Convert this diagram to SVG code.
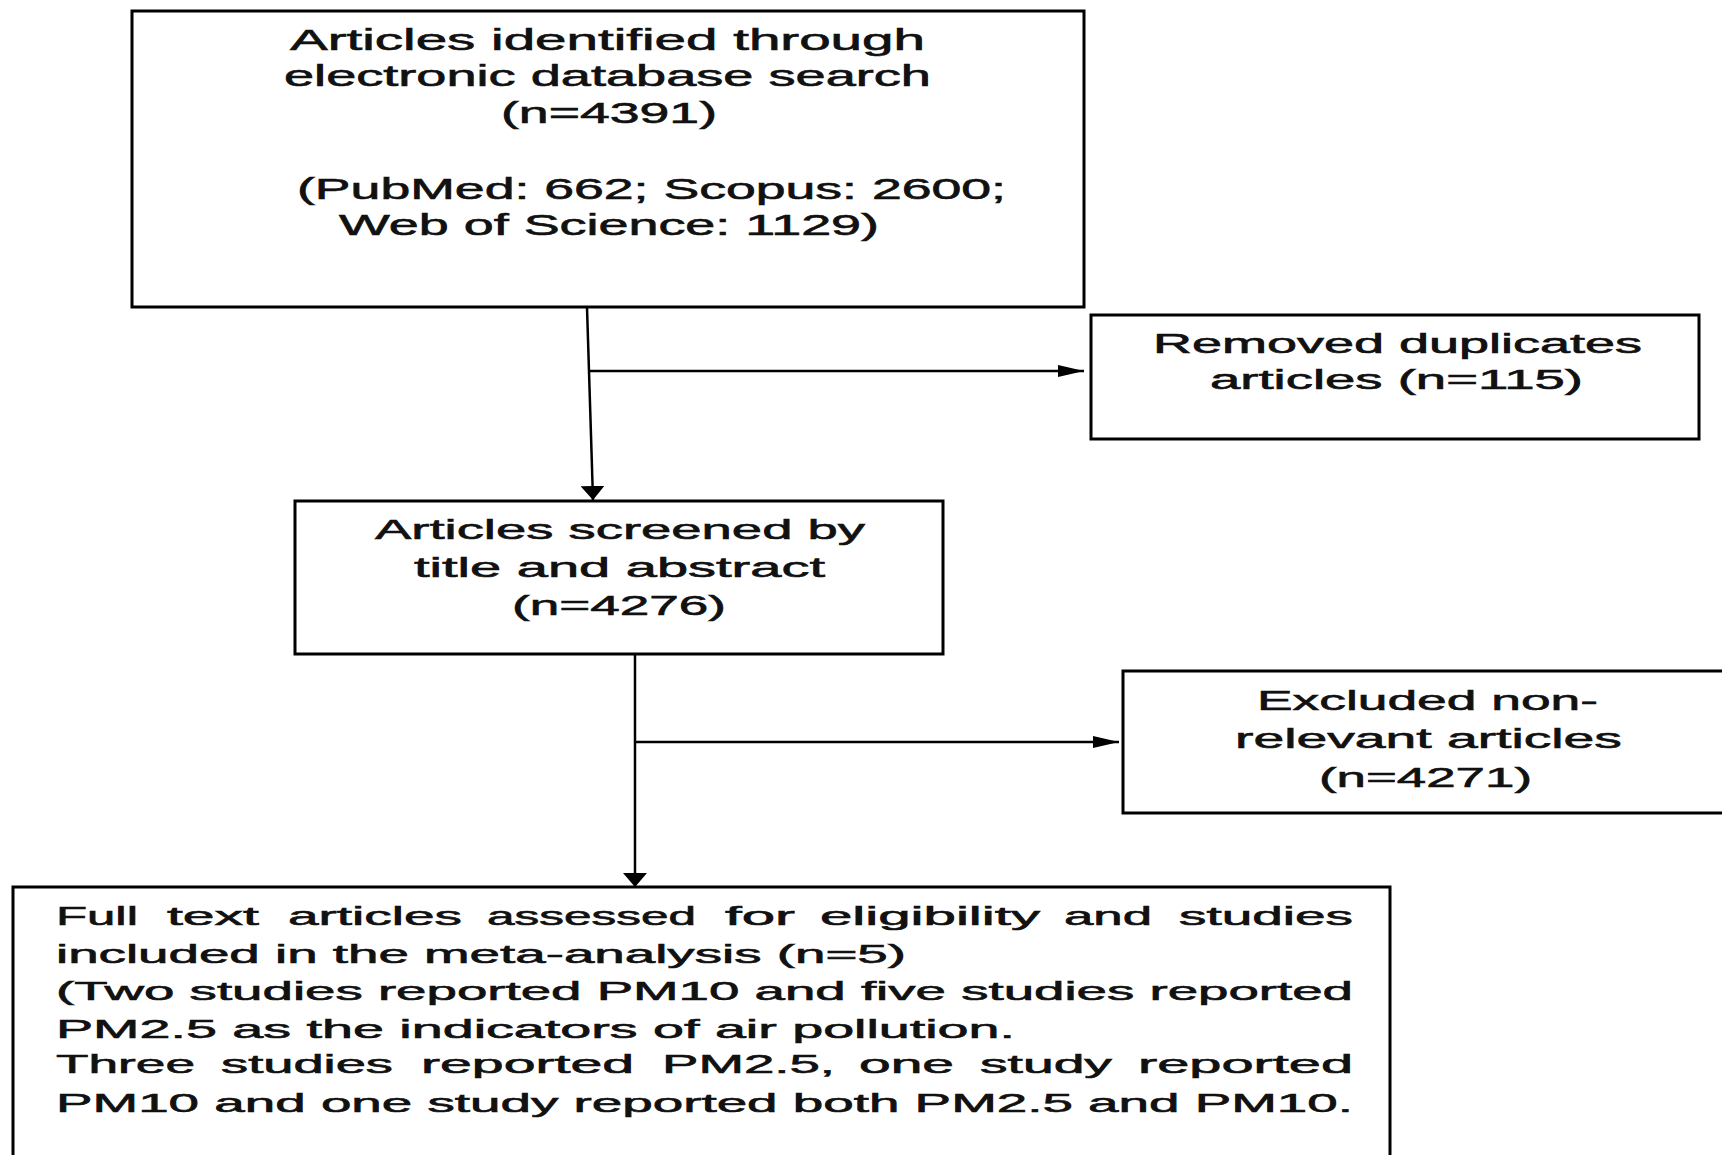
<svg xmlns="http://www.w3.org/2000/svg" width="1722" height="1155" viewBox="0 0 1722 1155">
<style>
.box{fill:#fff;stroke:#000;stroke-width:3}
.t{font-family:"Liberation Sans",Arial,sans-serif;fill:#111;stroke:#111;stroke-width:0.6}
.f29{font-size:29px}.f27{font-size:27px}.f28{font-size:28px}.f26{font-size:26px}
.conn{stroke:#000;stroke-width:2.5;fill:none}
</style>
<defs>
<marker id="ah" markerUnits="userSpaceOnUse" markerWidth="26" markerHeight="12" refX="26" refY="6" orient="auto"><path d="M0,0 L26,6 L0,12 z" fill="#000"/></marker>
<marker id="av" markerUnits="userSpaceOnUse" markerWidth="14" markerHeight="24" refX="14" refY="12" orient="auto"><path d="M0,0 L14,12 L0,24 z" fill="#000"/></marker>
</defs>
<rect width="1722" height="1155" fill="#fff"/>
<g id="connectors">
<line class="conn" x1="587" y1="307" x2="593" y2="500" marker-end="url(#av)"/>
<line class="conn" x1="590" y1="371" x2="1084" y2="371" marker-end="url(#ah)"/>
<line class="conn" x1="635" y1="654" x2="635" y2="887" marker-end="url(#av)"/>
<line class="conn" x1="635" y1="742" x2="1119" y2="742" marker-end="url(#ah)"/>
</g>
<g id="identified">
<rect class="box" x="132" y="11" width="952" height="296"/>
<text class="t f29" lengthAdjust="spacingAndGlyphs" x="290" y="50" textLength="635">Articles identified through</text>
<text class="t f29" lengthAdjust="spacingAndGlyphs" x="284" y="86" textLength="647">electronic database search</text>
<text class="t f29" lengthAdjust="spacingAndGlyphs" x="501" y="123" textLength="216">(n=4391)</text>
<text class="t f29" lengthAdjust="spacingAndGlyphs" x="297" y="199" textLength="709">(PubMed: 662; Scopus: 2600;</text>
<text class="t f29" lengthAdjust="spacingAndGlyphs" x="339" y="235" textLength="540">Web of Science: 1129)</text>
</g>
<g id="duplicates">
<rect class="box" x="1091" y="315" width="608" height="124"/>
<text class="t f27" lengthAdjust="spacingAndGlyphs" x="1153" y="353" textLength="489">Removed duplicates</text>
<text class="t f27" lengthAdjust="spacingAndGlyphs" x="1210" y="389" textLength="373">articles (n=115)</text>
</g>
<g id="screened">
<rect class="box" x="295" y="501" width="648" height="153"/>
<text class="t f28" lengthAdjust="spacingAndGlyphs" x="375" y="539" textLength="490">Articles screened by</text>
<text class="t f28" lengthAdjust="spacingAndGlyphs" x="414" y="577" textLength="411">title and abstract</text>
<text class="t f28" lengthAdjust="spacingAndGlyphs" x="512" y="615" textLength="214">(n=4276)</text>
</g>
<g id="excluded">
<rect class="box" x="1123" y="671" width="620" height="142"/>
<text class="t f28" lengthAdjust="spacingAndGlyphs" x="1257" y="710" textLength="341">Excluded non-</text>
<text class="t f28" lengthAdjust="spacingAndGlyphs" x="1235" y="748" textLength="387">relevant articles</text>
<text class="t f28" lengthAdjust="spacingAndGlyphs" x="1319" y="787" textLength="213">(n=4271)</text>
</g>
<g id="included">
<rect class="box" x="13" y="887" width="1377" height="290"/>
<text class="t f26" y="925"><tspan lengthAdjust="spacingAndGlyphs" x="56" textLength="82">Full</tspan> <tspan lengthAdjust="spacingAndGlyphs" x="167" textLength="92">text</tspan> <tspan lengthAdjust="spacingAndGlyphs" x="288" textLength="174">articles</tspan> <tspan lengthAdjust="spacingAndGlyphs" x="487" textLength="209">assessed</tspan> <tspan lengthAdjust="spacingAndGlyphs" x="725" textLength="70">for</tspan> <tspan lengthAdjust="spacingAndGlyphs" x="820" textLength="220">eligibility</tspan> <tspan lengthAdjust="spacingAndGlyphs" x="1064" textLength="88">and</tspan> <tspan lengthAdjust="spacingAndGlyphs" x="1179" textLength="174">studies</tspan></text>
<text class="t f26" lengthAdjust="spacingAndGlyphs" x="56" y="963" textLength="850">included in the meta-analysis (n=5)</text>
<text class="t f26" lengthAdjust="spacingAndGlyphs" x="56" y="1000" textLength="1297">(Two studies reported PM10 and five studies reported</text>
<text class="t f26" lengthAdjust="spacingAndGlyphs" x="56" y="1038" textLength="959">PM2.5 as the indicators of air pollution.</text>
<text class="t f26" y="1073"><tspan lengthAdjust="spacingAndGlyphs" x="56" textLength="139">Three</tspan> <tspan lengthAdjust="spacingAndGlyphs" x="221" textLength="172">studies</tspan> <tspan lengthAdjust="spacingAndGlyphs" x="421" textLength="213">reported</tspan> <tspan lengthAdjust="spacingAndGlyphs" x="662" textLength="173">PM2.5,</tspan> <tspan lengthAdjust="spacingAndGlyphs" x="859" textLength="95">one</tspan> <tspan lengthAdjust="spacingAndGlyphs" x="980" textLength="132">study</tspan> <tspan lengthAdjust="spacingAndGlyphs" x="1138" textLength="215">reported</tspan></text>
<text class="t f26" lengthAdjust="spacingAndGlyphs" x="56" y="1112" textLength="1297">PM10 and one study reported both PM2.5 and PM10.</text>
</g>
</svg>
